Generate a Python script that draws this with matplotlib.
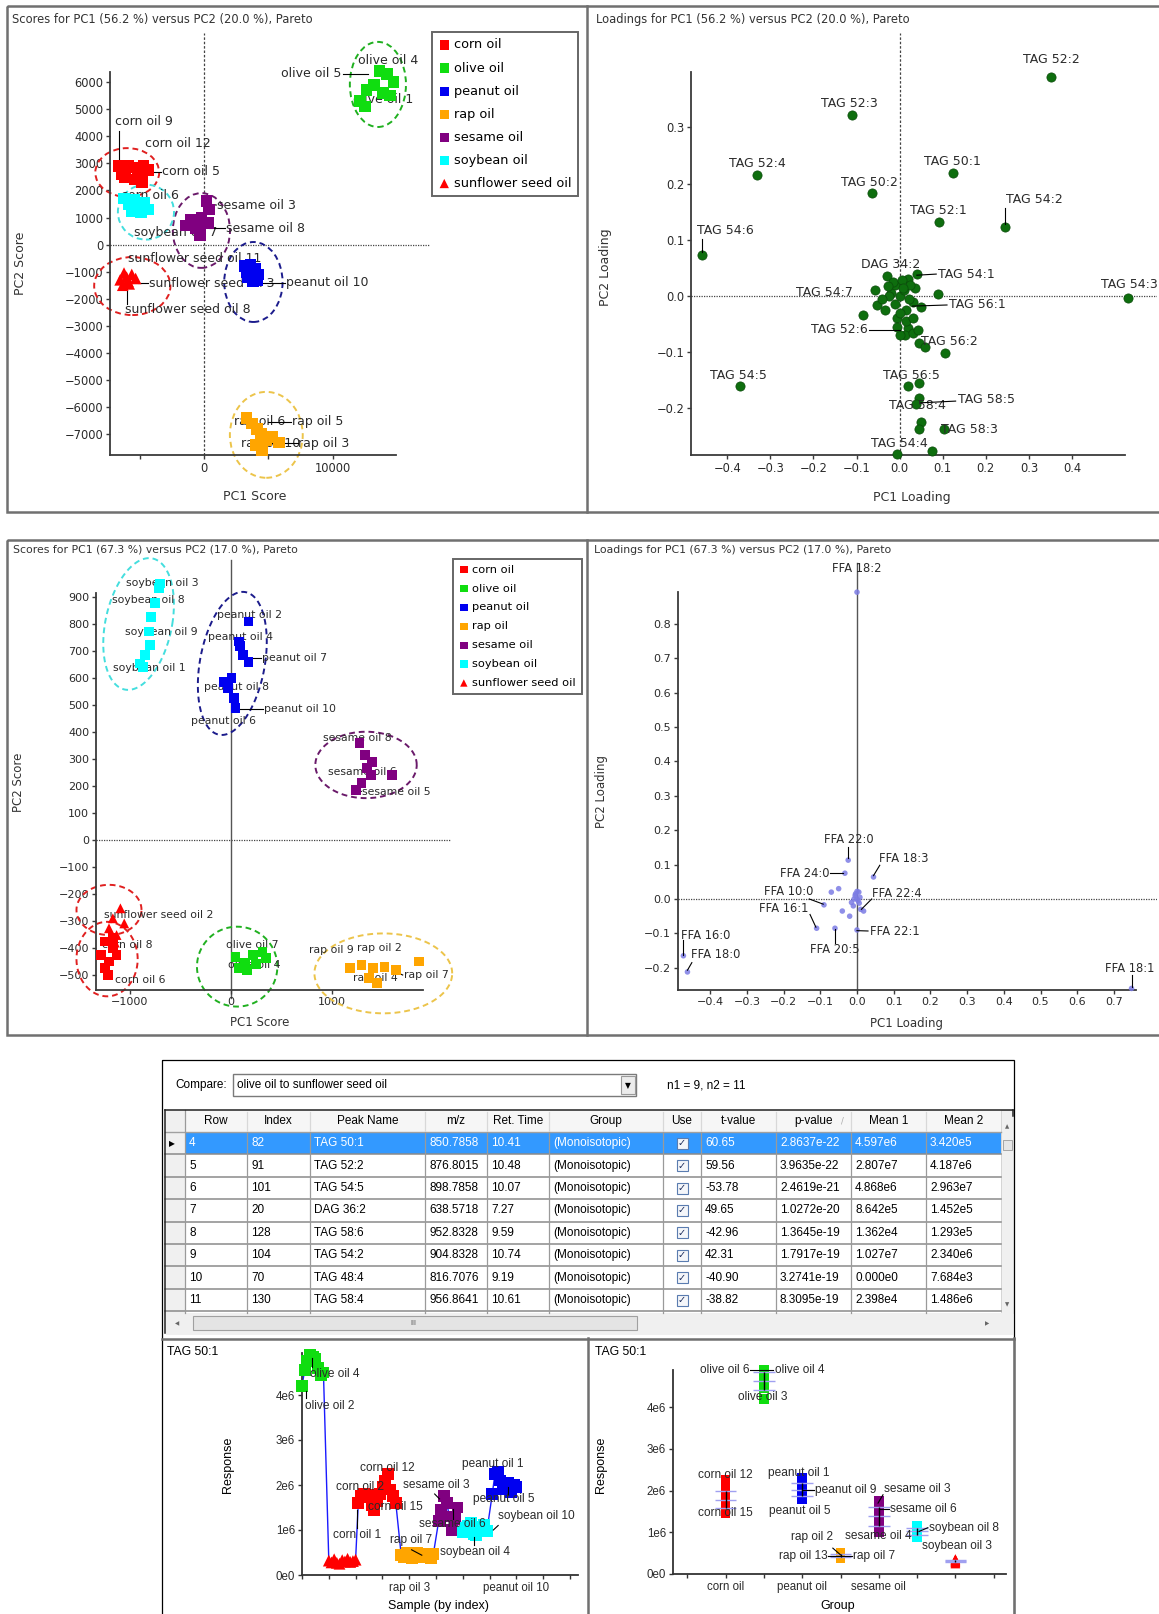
import numpy as np
import matplotlib
matplotlib.use("Agg")
import matplotlib.pyplot as plt
from matplotlib.patches import Rectangle, Ellipse

W, H = 1159, 1614
plt.rcParams['font.family'] = ['DejaVu Sans']

groups = ['corn oil', 'olive oil', 'peanut oil', 'rap oil', 'sesame oil', 'soybean oil', 'sunflower seed oil']
colors = ['#ff0000', '#10dd10', '#0000f0', '#ffa500', '#800080', '#00ffff', '#ff0000']
ring_colors = ['#e02020', '#20b020', '#1c1c8c', '#ecc44a', '#6a1a6a', '#44dede', '#e02020']
markers = ['s', 's', 's', 's', 's', 's', '^']

# ---------- scores PC1 (56.2 %) vs PC2 (20.0 %) ----------
sc1_corn_x = [-6600, -6300, -5900, -5500, -5100, -4700, -4300, -6100, -5400, -4800, -6400]
sc1_corn_y = [2900, 2750, 2900, 2850, 2700, 2900, 2750, 2500, 2400, 2300, 2600]
sc1_olive_x = [13600, 14200, 14700, 13200, 12600, 12100, 12500, 13900, 14400]
sc1_olive_y = [6400, 6300, 6000, 5900, 5700, 5300, 5100, 5600, 5500]
sc1_peanut_x = [3200, 3600, 4000, 4200, 3400, 3800, 3300, 4100]
sc1_peanut_y = [-800, -750, -900, -1100, -1200, -1350, -1000, -1300]
sc1_rap_x = [3300, 3700, 4100, 4400, 4800, 5300, 5800, 4500, 4000]
sc1_rap_y = [-6400, -6600, -6800, -7000, -7200, -7100, -7300, -7600, -7400]
sc1_sesame_x = [-1400, -1000, -600, -200, 200, 400, 300, -300]
sc1_sesame_y = [700, 900, 600, 1000, 1600, 1300, 800, 350]
sc1_soybean_x = [-6200, -5800, -5400, -5000, -4600, -4300, -5600, -4900]
sc1_soybean_y = [1700, 1500, 1650, 1400, 1550, 1300, 1250, 1200]
sc1_sunflower_x = [-6500, -6200, -5900, -5600, -5300, -6300, -5800, -6000]
sc1_sunflower_y = [-1300, -1050, -1350, -1100, -1250, -1500, -1450, -1200]

ring1_cx = [-5950, 13480, 3830, 4830, -200, -4500, -5560]
ring1_cy = [2660, 5910, -1380, -7020, 520, 1200, -1530]
ring1_w = [4950, 4350, 4520, 5650, 4430, 4350, 5910]
ring1_h = [1800, 3140, 2950, 3170, 2760, 2030, 2140]

sc1_labels = [
    ('olive oil 4', 11940, 6810, 'left', None),
    ('olive oil 5', 10650, 6300, 'right', (10750, 6300, 12700, 6300)),
    ('olive oil 1', 11530, 5340, 'left', None),
    ('corn oil 9', -6900, 4535, 'left', (-6600, 4200, -6600, 2900)),
    ('corn oil 12', -4550, 3740, 'left', None),
    ('corn oil 5', -3230, 2690, 'left', (-4300, 2690, -3300, 2690)),
    ('corn oil 6', -6450, 1830, 'left', None),
    ('soybean oil 7', -5430, 430, 'left', None),
    ('sesame oil 3', 1010, 1460, 'left', (300, 1500, 950, 1460)),
    ('sesame oil 8', 1720, 600, 'left', (400, 600, 1650, 600)),
    ('sunflower seed oil 11', -5910, -510, 'left', None),
    ('sunflower seed oil 3', -4260, -1430, 'left', (-5100, -1430, -4330, -1430)),
    ('peanut oil 10', 6370, -1400, 'left', (4300, -1400, 6300, -1400)),
    ('sunflower seed oil 8', -6160, -2410, 'left', (-6000, -1650, -6000, -2200)),
    ('rap oil 6', 2320, -6530, 'left', None),
    ('rap oil 5', 6810, -6530, 'left', (5000, -6530, 6750, -6530)),
    ('rap oil 10', 2900, -7330, 'left', None),
    ('rap oil 3', 7300, -7330, 'left', (5300, -7330, 7250, -7330)),
]

# ---------- loadings PC1 (56.2 %) vs PC2 (20.0 %) ----------
load1_x = [0.352, -0.11, -0.33, -0.065, 0.125, 0.092, 0.245, -0.459, 0.53, -0.37, 0.105,
           -0.03, -0.056, -0.053, -0.086, -0.035, -0.01, 0.0, 0.01, 0.02, 0.04, 0.03, 0.088, 0.05,
           0.02, -0.005, 0.012, 0.0, 0.03, 0.044, 0.06, 0.015, -0.02, 0.035, -0.01, 0.042,
           -0.025, -0.015, 0.005, 0.025, 0.0, -0.04, 0.015, 0.03, -0.005, 0.008, 0.022, -0.028,
           0.02, 0.044, 0.046, 0.038, 0.05, 0.044, 0.102, 0.076, -0.005]
load1_y = [0.39, 0.322, 0.215, 0.183, 0.219, 0.132, 0.123, 0.073, -0.004, -0.16, -0.102,
           0.035, 0.011, -0.016, -0.034, -0.025, 0.02, 0.0, 0.01, 0.03, 0.04, -0.01, 0.003, -0.02,
           -0.057, -0.04, -0.069, -0.07, -0.065, -0.084, -0.09, -0.025, 0.005, 0.015, -0.015, -0.06,
           0.0, 0.025, 0.028, 0.02, -0.03, -0.005, -0.045, -0.04, -0.055, 0.015, -0.005, 0.018,
           -0.16, -0.155, -0.181, -0.193, -0.224, -0.236, -0.236, -0.275, -0.281]
load1_labels = [
    ('TAG 52:2', 0.351, 0.42, 'center', None),
    ('TAG 52:3', -0.117, 0.342, 'center', None),
    ('TAG 52:4', -0.331, 0.235, 'center', None),
    ('TAG 50:2', -0.069, 0.202, 'center', None),
    ('TAG 50:1', 0.123, 0.239, 'center', None),
    ('TAG 52:1', 0.089, 0.152, 'center', None),
    ('TAG 54:2', 0.247, 0.171, 'left', (0.245, 0.128, 0.245, 0.156)),
    ('TAG 54:6', -0.47, 0.117, 'left', (-0.459, 0.078, -0.459, 0.102)),
    ('TAG 54:3', 0.532, 0.02, 'center', None),
    ('TAG 54:5', -0.373, -0.142, 'center', None),
    ('DAG 34:2', -0.02, 0.056, 'center', None),
    ('TAG 54:1', 0.089, 0.039, 'left', (0.04, 0.037, 0.085, 0.039)),
    ('TAG 54:7', -0.175, 0.006, 'center', None),
    ('TAG 56:1', 0.115, -0.016, 'left', (0.03, -0.018, 0.11, -0.016)),
    ('TAG 52:6', -0.073, -0.06, 'right', (-0.07, -0.06, 0.0, -0.06)),
    ('TAG 56:2', 0.05, -0.081, 'left', None),
    ('TAG 56:5', 0.028, -0.141, 'center', None),
    ('TAG 58:4', 0.042, -0.194, 'center', None),
    ('TAG 58:5', 0.136, -0.185, 'left', (0.05, -0.19, 0.13, -0.187)),
    ('TAG 58:3', 0.097, -0.238, 'left', None),
    ('TAG 54:4', 0.0, -0.262, 'center', None),
]

# ---------- scores PC1 (67.3 %) vs PC2 (17.0 %) ----------
sc2_corn_x = [-1246, -1170, -1284, -1208, -1246, -1133, -1170, -1220]
sc2_corn_y = [-376, -401, -426, -450, -475, -426, -364, -500]
sc2_olive_x = [45, 140, 216, 311, 348, 159, 83, 250]
sc2_olive_y = [-432, -457, -426, -414, -438, -481, -475, -460]
sc2_peanut_x = [174, 80, 117, 174, 5, -30, 26, 45, -68, 90]
sc2_peanut_y = [809, 735, 685, 660, 599, 562, 525, 488, 586, 720]
sc2_rap_x = [1178, 1292, 1405, 1519, 1633, 1860, 1367, 1443]
sc2_rap_y = [-475, -463, -475, -469, -481, -450, -512, -530]
sc2_sesame_x = [1273, 1330, 1348, 1386, 1595, 1235, 1292, 1400]
sc2_sesame_y = [358, 315, 266, 241, 241, 185, 210, 290]
sc2_soybean_x = [-700, -716, -754, -792, -811, -800, -848, -905, -870]
sc2_soybean_y = [950, 932, 877, 827, 772, 722, 685, 654, 640]
sc2_sunflower_x = [-1095, -1170, -1208, -1133, -1057, -1150]
sc2_sunflower_y = [-253, -290, -327, -352, -309, -380]

ring2_cx = [-1227, 61, 13, 1508, 1337, -915, -1208]
ring2_cy = [-441, -469, 654, -494, 278, 800, -259]
ring2_rx = [303, 398, 325, 682, 502, 334, 322]
ring2_ry = [138, 148, 265, 148, 123, 244, 93]
ring2_shear = [0, 0, 104, 0, 0, 104, 0]

sc2_labels = [
    ('soybean oil 3', -1035, 951, 'left', None),
    ('soybean oil 8', -1174, 889, 'left', None),
    ('soybean oil 9', -1054, 772, 'left', None),
    ('soybean oil 1', -1166, 636, 'left', None),
    ('peanut oil 2', -139, 833, 'left', None),
    ('peanut oil 4', -232, 753, 'left', None),
    ('peanut oil 7', 310, 673, 'left', (180, 673, 300, 673)),
    ('peanut oil 8', -270, 568, 'left', None),
    ('peanut oil 10', 327, 485, 'left', (50, 485, 320, 485)),
    ('peanut oil 6', -400, 441, 'left', None),
    ('sesame oil 8', 907, 377, 'left', None),
    ('sesame oil 6', 963, 253, 'left', None),
    ('sesame oil 5', 1300, 179, 'left', (1240, 185, 1290, 180)),
    ('sunflower seed oil 2', -1260, -278, 'left', None),
    ('corn oil 8', -1278, -389, 'left', None),
    ('corn oil 6', -1148, -519, 'left', None),
    ('olive oil 7', -53, -389, 'left', None),
    ('olive oil 4', -27, -463, 'left', None),
    ('rap oil 9', 769, -407, 'left', None),
    ('rap oil 2', 1243, -401, 'left', None),
    ('rap oil 7', 1711, -500, 'left', (1640, -490, 1700, -500)),
    ('rap oil 4', 1206, -512, 'left', None),
]

# ---------- loadings PC1 (67.3 %) vs PC2 (17.0 %) ----------
load2_x = [0.0, 0.748, -0.473, -0.462, -0.024, 0.045, -0.033, -0.09, -0.11, -0.06, 0.018, 0.0,
           -0.005, 0.0, -0.01, -0.04, -0.05, -0.02, 0.01, -0.07, 0.005, -0.015, 0.008,
           -0.004, 0.003, -0.008, 0.0, 0.006]
load2_y = [0.892, -0.26, -0.165, -0.212, 0.113, 0.064, 0.075, -0.017, -0.085, -0.085, -0.035, -0.09,
           0.01, 0.0, -0.02, -0.035, 0.03, -0.05, -0.03, 0.02, 0.02, -0.01, 0.005,
           0.015, -0.005, 0.0, 0.022, -0.012]
load2_labels = [
    ('FFA 18:2', 0.0, 0.961, 'center', None),
    ('FFA 22:0', -0.022, 0.172, 'center', (-0.024, 0.12, -0.024, 0.15)),
    ('FFA 18:3', 0.06, 0.118, 'left', (0.045, 0.068, 0.062, 0.098)),
    ('FFA 24:0', -0.075, 0.075, 'right', (-0.073, 0.075, -0.038, 0.075)),
    ('FFA 10:0', -0.185, 0.021, 'center', (-0.13, 0.0, -0.092, -0.015)),
    ('FFA 16:1', -0.2, -0.027, 'center', (-0.128, -0.045, -0.112, -0.082)),
    ('FFA 22:4', 0.04, 0.017, 'left', (0.012, -0.03, 0.04, 0.0)),
    ('FFA 22:1', 0.035, -0.095, 'left', (0.0, -0.092, 0.03, -0.093)),
    ('FFA 20:5', -0.06, -0.148, 'center', (-0.06, -0.088, -0.06, -0.128)),
    ('FFA 16:0', -0.479, -0.105, 'left', (-0.473, -0.162, -0.473, -0.12)),
    ('FFA 18:0', -0.451, -0.161, 'left', (-0.462, -0.207, -0.45, -0.185)),
    ('FFA 18:1', 0.742, -0.202, 'center', (0.748, -0.255, 0.748, -0.222)),
]

# ---------- t-test table: olive oil vs sunflower seed oil ----------
tbl_row = ['4', '5', '6', '7', '8', '9', '10', '11']
tbl_index = ['82', '91', '101', '20', '128', '104', '70', '130']
tbl_peak = ['TAG 50:1', 'TAG 52:2', 'TAG 54:5', 'DAG 36:2', 'TAG 58:6', 'TAG 54:2', 'TAG 48:4', 'TAG 58:4']
tbl_mz = ['850.7858', '876.8015', '898.7858', '638.5718', '952.8328', '904.8328', '816.7076', '956.8641']
tbl_rt = ['10.41', '10.48', '10.07', '7.27', '9.59', '10.74', '9.19', '10.61']
tbl_group = ['(Monoisotopic)'] * 8
tbl_t = ['60.65', '59.56', '-53.78', '49.65', '-42.96', '42.31', '-40.90', '-38.82']
tbl_p = ['2.8637e-22', '3.9635e-22', '2.4619e-21', '1.0272e-20', '1.3645e-19', '1.7917e-19', '3.2741e-19', '8.3095e-19']
tbl_mean1 = ['4.597e6', '2.807e7', '4.868e6', '8.642e5', '1.362e4', '1.027e7', '0.000e0', '2.398e4']
tbl_mean2 = ['3.420e5', '4.187e6', '2.963e7', '1.452e5', '1.293e5', '2.340e6', '7.684e3', '1.486e6']
tbl_head = ['Row', 'Index', 'Peak Name', 'm/z', 'Ret. Time', 'Group', 'Use', 't-value', 'p-value', 'Mean 1', 'Mean 2']

# ---------- TAG 50:1 response (x 1e6), by sample index ----------
idx_olive = [0, 1, 2, 3, 4, 5, 6, 7, 8]
resp_olive = [4.2, 4.55, 4.75, 4.9, 4.85, 4.8, 4.6, 4.45, 4.5]
idx_sunflower = [10, 11, 12, 13, 14, 15, 16, 17, 18, 19, 20]
resp_sunflower = [0.32, 0.28, 0.35, 0.27, 0.25, 0.33, 0.30, 0.36, 0.29, 0.31, 0.34]
idx_corn = [21, 22, 23, 24, 25, 26, 27, 28, 29, 30, 31, 32, 33, 34, 35]
resp_corn = [1.6, 1.75, 1.8, 1.72, 1.78, 1.55, 1.45, 1.65, 1.8, 1.95, 2.1, 2.25, 1.9, 1.75, 1.6]
idx_rap = [37, 38, 39, 40, 41, 42, 43, 44, 45, 46, 47, 48, 49]
resp_rap = [0.45, 0.4, 0.5, 0.42, 0.38, 0.45, 0.5, 0.4, 0.44, 0.48, 0.42, 0.38, 0.46]
idx_sesame = [51, 52, 53, 54, 55, 56, 57, 58]
resp_sesame = [1.2, 1.45, 1.75, 1.6, 1.3, 1.0, 1.25, 1.5]
idx_soybean = [60, 61, 62, 63, 64, 65, 66, 67, 68, 69]
resp_soybean = [0.95, 1.05, 1.1, 1.15, 0.9, 0.88, 1.0, 1.08, 1.12, 0.98]
idx_peanut = [71, 72, 73, 74, 75, 76, 77, 78, 79, 80]
resp_peanut = [1.8, 2.25, 2.3, 2.1, 1.9, 2.0, 2.05, 1.85, 2.0, 1.95]

resp_idx_labels = [
    ('olive oil 4', 3.0, 4.47, 'left', (3.6, 4.63, 3.6, 4.82)),
    ('olive oil 2', 1.1, 3.76, 'left', (1.5, 3.93, 1.5, 4.1)),
    ('corn oil 12', 21.6, 2.37, 'left', None),
    ('corn oil 2', 12.6, 1.96, 'left', None),
    ('corn oil 15', 24.8, 1.5, 'left', None),
    ('corn oil 1', 11.7, 0.9, 'left', (20.6, 1.05, 20.6, 1.45)),
    ('sesame oil 3', 37.6, 2.0, 'left', (49.5, 1.8, 51.3, 1.69)),
    ('sesame oil 6', 43.8, 1.13, 'left', (56.2, 1.25, 56.2, 1.46)),
    ('rap oil 7', 32.8, 0.78, 'left', (40.9, 0.56, 44.7, 0.44)),
    ('soybean oil 4', 51.5, 0.5, 'left', (64.3, 0.66, 64.3, 0.84)),
    ('soybean oil 10', 73.3, 1.3, 'left', (71.4, 1.0, 73.2, 1.1)),
    ('peanut oil 1', 59.6, 2.46, 'left', None),
    ('peanut oil 5', 63.9, 1.69, 'left', (76.8, 1.78, 76.8, 1.95)),
]
resp_grp_labels = [
    ('olive oil 6', 1.62, 4.89, 'right', (1.64, 4.89, 2.25, 4.89)),
    ('olive oil 4', 2.28, 4.89, 'left', None),
    ('olive oil 3', 1.32, 4.24, 'left', None),
    ('corn oil 12', 1.0, 2.37, 'center', None),
    ('corn oil 15', 1.0, 1.46, 'center', None),
    ('peanut oil 1', 2.91, 2.43, 'center', None),
    ('peanut oil 9', 3.33, 2.01, 'left', (3.0, 2.01, 3.3, 2.01)),
    ('peanut oil 5', 2.93, 1.5, 'center', None),
    ('sesame oil 3', 5.14, 2.05, 'left', (4.98, 1.7, 5.11, 1.9)),
    ('sesame oil 6', 5.28, 1.56, 'left', (5.0, 1.56, 5.26, 1.56)),
    ('sesame oil 4', 4.11, 0.9, 'left', None),
    ('soybean oil 8', 6.3, 1.11, 'left', (6.05, 1.02, 6.28, 1.11)),
    ('soybean oil 3', 6.14, 0.67, 'left', None),
    ('rap oil 2', 3.26, 0.88, 'center', (3.8, 0.62, 4.0, 0.46)),
    ('rap oil 13', 3.66, 0.43, 'right', (3.68, 0.43, 4.3, 0.43)),
    ('rap oil 7', 4.33, 0.43, 'left', None),
]

# ------------------------------------------------------------------
fig = plt.figure(figsize=(W / 100, H / 100), dpi=100)
bg = fig.add_axes([0, 0, 1, 1])
bg.set_xlim(0, W)
bg.set_ylim(H, 0)
bg.axis('off')
bg.set_zorder(0)

gray = '#707070'
ink = '#2a2a2a'


def px_axes(box, xmap, ymap):
    x0, y0, x1, y1 = box
    ax = fig.add_axes([x0 / W, 1 - y1 / H, (x1 - x0) / W, (y1 - y0) / H])
    ax.set_xlim((x0 - xmap[0]) / xmap[1], (x1 - xmap[0]) / xmap[1])
    ax.set_ylim((ymap[0] - y1) / ymap[1], (ymap[0] - y0) / ymap[1])
    ax.patch.set_alpha(0)
    ax.set_zorder(2)
    return ax


def frame_axes(ax, x_at, y_at, xb, yb, fs, family, color='#3a3a3a'):
    ax.spines['top'].set_visible(False)
    ax.spines['right'].set_visible(False)
    ax.spines['left'].set_position(('data', x_at))
    ax.spines['left'].set_bounds(*yb)
    ax.spines['bottom'].set_position(('data', y_at))
    ax.spines['bottom'].set_bounds(*xb)
    for s in ('left', 'bottom'):
        ax.spines[s].set_color(color)
        ax.spines[s].set_linewidth(1.3)
    ax.tick_params(direction='out', length=3, width=1, colors=color, labelsize=fs,
                   pad=2, labelfontfamily=family, labelcolor=ink)


def put_labels(ax, labels, fs, family, z):
    for txt, tx, ty, ha, leader in labels:
        if leader is not None:
            ax.plot(leader[0::2], leader[1::2], color='k', lw=0.8, zorder=z)
        ax.text(tx, ty, txt, ha=ha, va='center', fontsize=fs, family=family, color=ink, zorder=z)


# ---------- frames ----------
bg.add_patch(Rectangle((7, 6), 1160, 506, fill=False, ec=gray, lw=1.8))
bg.plot([587, 587], [6, 512], color=gray, lw=1.8)
bg.add_patch(Rectangle((7, 540), 1160, 495, fill=False, ec=gray, lw=1.8))
bg.plot([587, 587], [540, 1035], color=gray, lw=1.8)
bg.add_patch(Rectangle((162, 1060), 852, 600, fill=False, ec='k', lw=0.9))
bg.plot([162, 1014], [1338.5, 1338.5], color=gray, lw=1.8)
bg.plot([587.5, 587.5], [1338, 1614], color=gray, lw=1.8)
bg.plot([1014, 1014], [1338, 1614], color=gray, lw=1.8)

# ---------- panel 1: scores ----------
ax1 = px_axes((9, 9, 585, 510), (204, 0.0129), (244.6, 0.0271))
ax1.set_yticks(list(range(-7000, 7000, 1000)))
ax1.set_xticks([-5000, 0, 5000, 10000])
ax1.set_xticklabels(['', '0', '', '10000'])
frame_axes(ax1, -7250, -7765, (-7250, 14880), (-7765, 6380), 8.3, 'DejaVu Sans')
ax1.plot([0, 0], [-7765, 7800], color='#444', lw=0.9, ls=(0, (2, 1.5)), zorder=1)
ax1.plot([-7250, 17500], [0, 0], color='#444', lw=0.9, ls=(0, (1, 1)), zorder=1)
sc1_xs = [sc1_corn_x, sc1_olive_x, sc1_peanut_x, sc1_rap_x, sc1_sesame_x, sc1_soybean_x, sc1_sunflower_x]
sc1_ys = [sc1_corn_y, sc1_olive_y, sc1_peanut_y, sc1_rap_y, sc1_sesame_y, sc1_soybean_y, sc1_sunflower_y]
for g in range(len(groups)):
    ax1.add_patch(Ellipse((ring1_cx[g], ring1_cy[g]), ring1_w[g], ring1_h[g], fill=False,
                          ec=ring_colors[g], lw=1.4, ls=(0, (3, 2)), zorder=2))
    ax1.scatter(sc1_xs[g], sc1_ys[g], s=70, marker=markers[g], c=colors[g],
                edgecolors='none', zorder=3, label=groups[g])
put_labels(ax1, sc1_labels, 9, 'DejaVu Sans', 2.5)
leg = ax1.legend(loc='upper left', bbox_to_anchor=(432 / W, 1 - 32 / H), bbox_transform=fig.transFigure,
                 borderaxespad=0, fancybox=False, edgecolor='#666', fontsize=9.3, labelspacing=0.78,
                 handletextpad=0.3, handlelength=0.9, borderpad=0.5, framealpha=1, markerscale=0.8)
leg.get_frame().set_linewidth(1.4)

# ---------- panel 2: loadings ----------
ax2 = px_axes((589, 9, 1157, 510), (899.6, 431), (296, 562))
ax2.set_yticks([-0.2, -0.1, 0.0, 0.1, 0.2, 0.3])
ax2.set_xticks([-0.4, -0.3, -0.2, -0.1, 0.0, 0.1, 0.2, 0.3, 0.4])
ax2.yaxis.set_major_formatter('{x:.1f}')
ax2.xaxis.set_major_formatter('{x:.1f}')
frame_axes(ax2, -0.483, -0.283, (-0.483, 0.523), (-0.283, 0.399), 8.3, 'DejaVu Sans')
ax2.plot([0, 0], [-0.283, 0.468], color='#444', lw=0.9, ls=(0, (2, 1.5)), zorder=1)
ax2.plot([-0.483, 0.6], [0, 0], color='#444', lw=0.9, ls=(0, (1, 1)), zorder=1)
ax2.scatter(load1_x, load1_y, s=44, c='#0e6e0e', edgecolors='#0a4a0a', linewidths=0.5, zorder=3)
put_labels(ax2, load1_labels, 9, 'DejaVu Sans', 4)

# ---------- panel 3: scores ----------
ax3 = px_axes((9, 542, 585, 1033), (231, 0.101), (840, 0.27))
ax3.set_yticks(list(range(-500, 1000, 100)))
ax3.set_xticks([-1000, 0, 1000])
frame_axes(ax3, -1335, -556, (-1335, 1897), (-556, 914), 8, 'DejaVu Sans')
ax3.plot([-1335, 2178], [0, 0], color='#444', lw=0.9, ls=(0, (1, 1)), zorder=1)
ax3.plot([0, 0], [-585, 1037], color='#555', lw=1.0, zorder=1)
sc2_xs = [sc2_corn_x, sc2_olive_x, sc2_peanut_x, sc2_rap_x, sc2_sesame_x, sc2_soybean_x, sc2_sunflower_x]
sc2_ys = [sc2_corn_y, sc2_olive_y, sc2_peanut_y, sc2_rap_y, sc2_sesame_y, sc2_soybean_y, sc2_sunflower_y]
t = np.linspace(0, 2 * np.pi, 240)
for g in range(len(groups)):
    ex = ring2_cx[g] + ring2_rx[g] * np.cos(t) + ring2_shear[g] * np.sin(t)
    ey = ring2_cy[g] + ring2_ry[g] * np.sin(t)
    ax3.plot(ex, ey, color=ring_colors[g], lw=1.4, ls=(0, (3, 2)), zorder=2)
    ax3.scatter(sc2_xs[g], sc2_ys[g], s=50, marker=markers[g], c=colors[g],
                edgecolors='none', zorder=3, label=groups[g])
put_labels(ax3, sc2_labels, 7.8, 'DejaVu Sans', 2.5)
leg3 = ax3.legend(loc='upper left', bbox_to_anchor=(453 / W, 1 - 559 / H), bbox_transform=fig.transFigure,
                  borderaxespad=0, fancybox=False, edgecolor='#666', fontsize=8.2, labelspacing=0.78,
                  handletextpad=0.3, handlelength=0.9, borderpad=0.5, framealpha=1, markerscale=0.75)
leg3.get_frame().set_linewidth(1.4)

# ---------- panel 4: loadings ----------
ax4 = px_axes((589, 542, 1157, 1033), (857, 367), (899, 344))
ax4.set_yticks([-0.2, -0.1, 0.0, 0.1, 0.2, 0.3, 0.4, 0.5, 0.6, 0.7, 0.8])
ax4.set_xticks([-0.4, -0.3, -0.2, -0.1, 0.0, 0.1, 0.2, 0.3, 0.4, 0.5, 0.6, 0.7])
ax4.yaxis.set_major_formatter('{x:.1f}')
ax4.xaxis.set_major_formatter('{x:.1f}')
frame_axes(ax4, -0.489, -0.265, (-0.489, 0.76), (-0.265, 0.892), 8, 'DejaVu Sans')
ax4.plot([-0.489, 0.82], [0, 0], color='#444', lw=0.9, ls=(0, (1, 1)), zorder=1)
ax4.plot([0, 0], [-0.265, 0.977], color='#555', lw=1.0, zorder=1)
ax4.scatter(load2_x, load2_y, s=16, c='#7c7ce4', edgecolors='none', alpha=0.85, zorder=3)
put_labels(ax4, load2_labels, 8.3, 'DejaVu Sans', 4)

# ---------- panel titles / axis labels ----------
bg.text(12, 20, 'Scores for PC1 (56.2 %) versus PC2 (20.0 %), Pareto', fontsize=8.3, color='#333', va='center')
bg.text(596, 20, 'Loadings for PC1 (56.2 %) versus PC2 (20.0 %), Pareto', fontsize=8.3, color='#333', va='center')
bg.text(13, 550, 'Scores for PC1 (67.3 %) versus PC2 (17.0 %), Pareto', fontsize=7.8, color='#333', va='center')
bg.text(594, 550, 'Loadings for PC1 (67.3 %) versus PC2 (17.0 %), Pareto', fontsize=7.8, color='#333', va='center')
bg.text(255, 497, 'PC1 Score', fontsize=9, color='#333', ha='center', va='center')
bg.text(21, 263, 'PC2 Score', fontsize=9, color='#333', ha='center', va='center', rotation=90)
bg.text(912, 497, 'PC1 Loading', fontsize=9, color='#333', ha='center', va='center')
bg.text(605, 267, 'PC2 Loading', fontsize=9, color='#333', ha='center', va='center', rotation=90)
bg.text(260, 1023, 'PC1 Score', fontsize=8.5, color='#333', ha='center', va='center')
bg.text(19, 782, 'PC2 Score', fontsize=8.5, color='#333', ha='center', va='center', rotation=90)
bg.text(907, 1023, 'PC1 Loading', fontsize=8.5, color='#333', ha='center', va='center')
bg.text(602, 792, 'PC2 Loading', fontsize=8.5, color='#333', ha='center', va='center', rotation=90)

# ---------- table ----------
tf = 'Liberation Sans'
bg.text(175, 1085, 'Compare:', fontsize=8.5, family=tf, va='center')
bg.add_patch(Rectangle((233, 1074), 403, 22, fc='white', ec='#7a7a7a', lw=1))
bg.text(237, 1085, 'olive oil to sunflower seed oil', fontsize=8.5, family=tf, va='center')
bg.add_patch(Rectangle((621, 1076), 14, 18, fc='#ececec', ec='#9a9a9a', lw=0.8))
bg.text(628, 1085.5, '\u25BC', fontsize=5.5, ha='center', va='center')
bg.text(667, 1085, 'n1 = 9, n2 = 11', fontsize=8.5, family=tf, va='center')

cols_x = [185, 247, 310, 425, 487, 549, 663, 701, 776, 851, 926, 1001]
top_y, hdr_y, row_h = 1110, 1132, 22.4
bot_y = hdr_y + 8 * row_h + 2
bg.add_patch(Rectangle((165, top_y), 836, bot_y - top_y, fc='white', ec='none'))
bg.add_patch(Rectangle((185, top_y), 816, hdr_y - top_y, fc='#f6f6f6', ec='none'))
bg.add_patch(Rectangle((165, top_y), 20, bot_y - top_y, fc='#f0f0f0', ec='none'))
bg.add_patch(Rectangle((185, hdr_y), 816, row_h, fc='#3399ff', ec='none'))
for k in range(1, 9):
    y = hdr_y + k * row_h
    bg.plot([165, 1001], [y, y], color='#8a8a8a', lw=1.1)
bg.plot([165, 1001], [hdr_y, hdr_y], color='#a0a0a0', lw=1.0)
for x in cols_x[1:-1]:
    bg.plot([x, x], [top_y + 2, hdr_y - 2], color='#d8d8d8', lw=0.9)
    bg.plot([x, x], [hdr_y, bot_y], color='#9a9a9a', lw=0.9)
bg.plot([185, 185], [top_y, bot_y], color='#9a9a9a', lw=0.9)
bg.plot([165, 1013], [top_y, top_y], color='#222', lw=1.1)
bg.plot([165, 165], [top_y, 1333], color='#222', lw=1.1)
bg.plot([1013, 1013], [top_y, top_y + 6], color='#222', lw=1.1)
for j, name in enumerate(tbl_head):
    bg.text((cols_x[j] + cols_x[j + 1]) / 2, (top_y + hdr_y) / 2, name, fontsize=8.5, family=tf,
            ha='center', va='center')
bg.text(842, (top_y + hdr_y) / 2, '/', fontsize=6, color='#aaa', ha='center', va='center')
cells = [tbl_row, tbl_index, tbl_peak, tbl_mz, tbl_rt, tbl_group, None, tbl_t, tbl_p, tbl_mean1, tbl_mean2]
for r in range(len(tbl_row)):
    yc = hdr_y + (r + 0.5) * row_h
    tc = 'white' if r == 0 else 'black'
    for j, col in enumerate(cells):
        if col is None:
            xc = (cols_x[j] + cols_x[j + 1]) / 2
            bg.add_patch(Rectangle((xc - 5.5, yc - 5.5), 11, 11, fc='#f4f6fa', ec='#5a7cb0', lw=0.8))
            bg.text(xc, yc, '\u2713', fontsize=7, color='#1a2a5a', ha='center', va='center')
        else:
            bg.text(cols_x[j] + 4, yc, col[r], fontsize=8.5, family=tf, color=tc, va='center')
bg.text(172, hdr_y + 0.5 * row_h, '\u25B6', fontsize=5.5, ha='center', va='center')
# scrollbars
bg.add_patch(Rectangle((1001, top_y), 12, bot_y - top_y, fc='#f0f0f0', ec='#cfcfcf', lw=0.6))
bg.text(1007, 1127, '\u25B2', fontsize=4, color='#666', ha='center', va='center')
bg.add_patch(Rectangle((1002.5, 1140), 9, 10, fc='#e6e6e6', ec='#9a9a9a', lw=0.6))
bg.text(1007, 1305, '\u25BC', fontsize=4, color='#666', ha='center', va='center')
bg.add_patch(Rectangle((166, bot_y), 847, 1335 - bot_y, fc='#f0f0f0', ec='none'))
bg.text(177, 1324, '\u25C0', fontsize=4, color='#666', ha='center', va='center')
bg.add_patch(Rectangle((193, 1316), 444, 14, fc='#e4e4e4', ec='#a0a0a0', lw=0.8))
bg.text(413, 1323, 'III', fontsize=5, color='#555', ha='center', va='center')
bg.text(987, 1324, '\u25B6', fontsize=4, color='#666', ha='center', va='center')

# ---------- panel 5: response by sample index ----------
bf = 'Liberation Sans'
ax5 = px_axes((164, 1341, 586, 1612), (302, 2.68), (1575, 45))
ax5.set_yticks([0, 1, 2, 3, 4])
ax5.set_yticklabels(['0e0', '1e6', '2e6', '3e6', '4e6'])
ax5.set_xticks(list(range(0, 101, 10)))
ax5.set_xticklabels(['', '', '', '', 'rap oil 3', '', '', '', 'peanut oil 10', '', ''])
frame_axes(ax5, 0, 0, (0, 103), (0, 4.93), 8.3, bf, color='#333')
idx_sets = [idx_olive, idx_sunflower, idx_corn, idx_rap, idx_sesame, idx_soybean, idx_peanut]
resp_sets = [resp_olive, resp_sunflower, resp_corn, resp_rap, resp_sesame, resp_soybean, resp_peanut]
order = [1, 6, 0, 3, 4, 5, 2]
ax5.plot(np.concatenate(idx_sets), np.concatenate(resp_sets), color='#1a1aff', lw=1.0, zorder=2)
for k, g in enumerate(order):
    ax5.scatter(idx_sets[k], resp_sets[k], s=72, marker=markers[g], c=colors[g], edgecolors='none', zorder=3)
put_labels(ax5, resp_idx_labels, 8.6, bf, 5)
bg.text(167, 1352, 'TAG 50:1', fontsize=8.8, family=bf, va='center')
bg.text(228, 1465, 'Response', fontsize=9, family=bf, ha='center', va='center', rotation=90)
bg.text(438, 1606, 'Sample (by index)', fontsize=9, family=bf, ha='center', va='center')

# ---------- panel 6: response by group ----------
ax6 = px_axes((590, 1341, 1012, 1612), (687.3, 38.3), (1574, 41.7))
ax6.set_yticks([0, 1, 2, 3, 4])
ax6.set_yticklabels(['0e0', '1e6', '2e6', '3e6', '4e6'])
ax6.set_xticks(list(range(0, 9)))
ax6.set_xticklabels(['', 'corn oil', '', 'peanut oil', '', 'sesame oil', '', '', ''])
frame_axes(ax6, -0.373, 0, (-0.373, 8.32), (0, 4.89), 8.3, bf, color='#333')
grp_resp = [resp_corn, resp_olive, resp_peanut, resp_rap, resp_sesame, resp_soybean, resp_sunflower]
for g in range(len(groups)):
    vals = np.array(grp_resp[g])
    pos = np.full(len(vals), g + 1)
    ax6.scatter(pos, vals, s=48, marker=markers[g], c=colors[g], edgecolors='none', zorder=3)
    m, sd = vals.mean(), vals.std()
    ax6.hlines([m - sd, m, m + sd], g + 1 - 0.28, g + 1 + 0.28, color='#a0a0f0', lw=1.0, zorder=4)
    ax6.vlines(g + 1, m - sd, m + sd, color='k', lw=1.0, zorder=4)
put_labels(ax6, resp_grp_labels, 8.6, bf, 5)
bg.text(595, 1352, 'TAG 50:1', fontsize=8.8, family=bf, va='center')
bg.text(601, 1465, 'Response', fontsize=9, family=bf, ha='center', va='center', rotation=90)
bg.text(838, 1606, 'Group', fontsize=9, family=bf, ha='center', va='center')

fig.savefig('out.png', dpi=100)
